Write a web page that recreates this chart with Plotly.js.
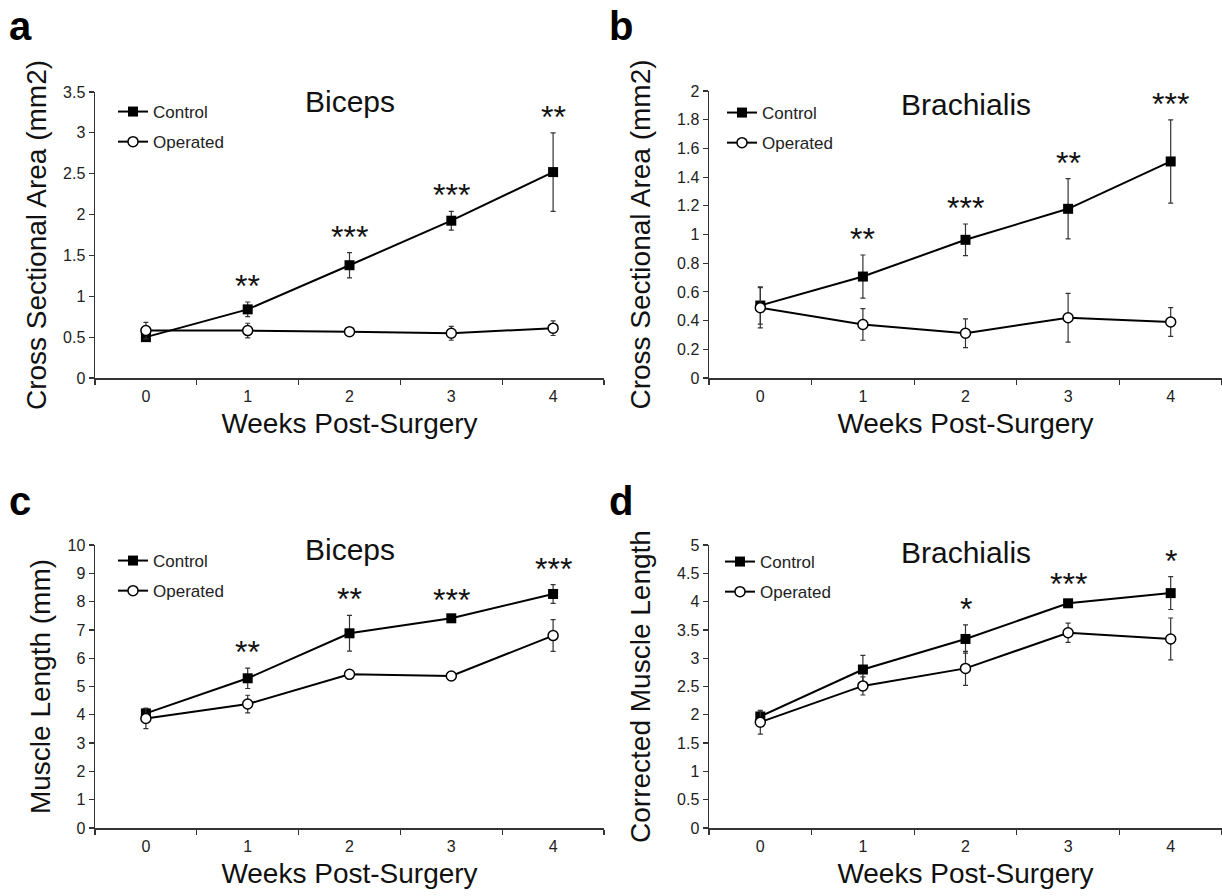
<!DOCTYPE html>
<html>
<head>
<meta charset="utf-8">
<script src="https://cdn.plot.ly/plotly-3.0.1.min.js"></script>
<style>
  html, body { margin: 0; padding: 0; background: #fff; }
  #chart { width: 1222px; height: 896px; }
</style>
</head>
<body>
<div id="chart"></div>
<script>
// ---------------- DATA ----------------
const weeks = [0, 1, 2, 3, 4];
const xTickText = ['0', '1', '2', '3', '4'];
const seriesNames = ['Control', 'Operated'];
const panelLetters = ['a', 'b', 'c', 'd'];
const panelTitles = ['Biceps', 'Brachialis', 'Biceps', 'Brachialis'];
const xAxisTitle = 'Weeks Post-Surgery';
const yAxisTitles = ['Cross Sectional Area (mm2)', 'Cross Sectional Area (mm2)', 'Muscle Length (mm)', 'Corrected Muscle Length'];

// a: Biceps cross sectional area
const csaBicepsControl = [0.50, 0.84, 1.38, 1.925, 2.52];
const csaBicepsControlErr = [0.05, 0.09, 0.155, 0.115, 0.48];
const csaBicepsOperated = [0.58, 0.58, 0.567, 0.547, 0.61];
const csaBicepsOperatedErr = [0.10, 0.09, 0.04, 0.085, 0.09];
const csaBicepsStars = ['', '**', '***', '***', '**'];
const csaBicepsTickVals = [0, 0.5, 1, 1.5, 2, 2.5, 3, 3.5];
const csaBicepsTickText = ['0', '0.5', '1', '1.5', '2', '2.5', '3', '3.5'];

// b: Brachialis cross sectional area
const csaBrachControl = [0.505, 0.707, 0.963, 1.179, 1.509];
const csaBrachControlErr = [0.13, 0.15, 0.11, 0.21, 0.29];
const csaBrachOperated = [0.49, 0.373, 0.312, 0.42, 0.39];
const csaBrachOperatedErr = [0.14, 0.11, 0.10, 0.17, 0.10];
const csaBrachStars = ['', '**', '***', '**', '***'];
const csaBrachTickVals = [0, 0.2, 0.4, 0.6, 0.8, 1, 1.2, 1.4, 1.6, 1.8, 2];
const csaBrachTickText = ['0', '0.2', '0.4', '0.6', '0.8', '1', '1.2', '1.4', '1.6', '1.8', '2'];

// c: Biceps muscle length
const lenBicepsControl = [4.05, 5.29, 6.88, 7.41, 8.27];
const lenBicepsControlErr = [0.18, 0.36, 0.63, 0.08, 0.33];
const lenBicepsOperated = [3.87, 4.38, 5.43, 5.37, 6.80];
const lenBicepsOperatedErr = [0.36, 0.31, 0.15, 0.05, 0.56];
const lenBicepsStars = ['', '**', '**', '***', '***'];
const lenBicepsTickVals = [0, 1, 2, 3, 4, 5, 6, 7, 8, 9, 10];
const lenBicepsTickText = ['0', '1', '2', '3', '4', '5', '6', '7', '8', '9', '10'];

// d: Brachialis corrected muscle length
const lenBrachControl = [1.97, 2.80, 3.34, 3.97, 4.15];
const lenBrachControlErr = [0.10, 0.25, 0.25, 0.05, 0.29];
const lenBrachOperated = [1.87, 2.51, 2.82, 3.45, 3.34];
const lenBrachOperatedErr = [0.21, 0.16, 0.30, 0.17, 0.37];
const lenBrachStars = ['', '', '*', '***', '*'];
const lenBrachTickVals = [0, 0.5, 1, 1.5, 2, 2.5, 3, 3.5, 4, 4.5, 5];
const lenBrachTickText = ['0', '0.5', '1', '1.5', '2', '2.5', '3', '3.5', '4', '4.5', '5'];

// ---------------- BUILD ----------------
const FONT = 'Liberation Sans, Arial, sans-serif';
const W = 1222, H = 896;
const px = v => v / W;
const py = v => 1 - v / H;

const panels = [
  { ctrl: csaBicepsControl, ctrlErr: csaBicepsControlErr, op: csaBicepsOperated, opErr: csaBicepsOperatedErr, stars: csaBicepsStars, tv: csaBicepsTickVals, tt: csaBicepsTickText,
    xdom: [px(95), px(604)], ydom: [py(378), py(92)], leg: [113, 94], letter: [20, 26], titleY: 101, ystand: 8 },
  { ctrl: csaBrachControl, ctrlErr: csaBrachControlErr, op: csaBrachOperated, opErr: csaBrachOperatedErr, stars: csaBrachStars, tv: csaBrachTickVals, tt: csaBrachTickText,
    xdom: [px(709), 1], ydom: [py(378), py(91)], leg: [722, 95], letter: [621, 26], titleY: 104, ystand: 18 },
  { ctrl: lenBicepsControl, ctrlErr: lenBicepsControlErr, op: lenBicepsOperated, opErr: lenBicepsOperatedErr, stars: lenBicepsStars, tv: lenBicepsTickVals, tt: lenBicepsTickText,
    xdom: [px(95), px(604)], ydom: [py(828), py(545)], leg: [113, 543], letter: [20, 501], titleY: 549, ystand: 8 },
  { ctrl: lenBrachControl, ctrlErr: lenBrachControlErr, op: lenBrachOperated, opErr: lenBrachOperatedErr, stars: lenBrachStars, tv: lenBrachTickVals, tt: lenBrachTickText,
    xdom: [px(709), 1], ydom: [py(828), py(545)], leg: [720, 544], letter: [621, 501], titleY: 552, ystand: 18 }
];

const traces = [];
const annotations = [];
const layout = {
  width: W, height: H,
  margin: { l: 0, r: 0, t: 0, b: 0 },
  paper_bgcolor: '#fff', plot_bgcolor: '#fff',
  font: { family: FONT, color: '#222' },
  showlegend: true,
  annotations: annotations
};

panels.forEach((p, i) => {
  const s = i === 0 ? '' : String(i + 1);
  const xa = 'x' + s, ya = 'y' + s;
  const legName = i === 0 ? 'legend' : 'legend' + (i + 1);

  traces.push({
    type: 'scatter', mode: 'lines+markers', name: seriesNames[0],
    x: weeks, y: p.ctrl, xaxis: xa, yaxis: ya, legend: legName, legendgroup: 'c' + i,
    line: { color: '#000', width: 2 },
    marker: { symbol: 'square', size: 10, color: '#000' },
    error_y: { type: 'data', array: p.ctrlErr, visible: true, color: '#333', thickness: 1.2, width: 2.5 }
  });
  traces.push({
    type: 'scatter', mode: 'lines+markers', name: seriesNames[1],
    x: weeks, y: p.op, xaxis: xa, yaxis: ya, legend: legName, legendgroup: 'o' + i,
    line: { color: '#000', width: 2 },
    marker: { symbol: 'circle', size: 10, color: '#fff', line: { color: '#000', width: 1.5 } },
    error_y: { type: 'data', array: p.opErr, visible: true, color: '#333', thickness: 1.2, width: 2.5 }
  });

  layout['xaxis' + s] = {
    domain: p.xdom, anchor: ya, range: [-0.5, 4.5],
    tickmode: 'array', tickvals: weeks, ticktext: xTickText, ticks: '',
    ticklabelstandoff: 3,
    minor: { tickmode: 'array', tickvals: [-0.5, 0.5, 1.5, 2.5, 3.5, 4.5], ticks: 'outside', ticklen: 5, tickwidth: 1.2, tickcolor: '#333' },
    showline: true, linecolor: '#333', linewidth: 1.5, showgrid: false, zeroline: false,
    tickfont: { size: 16, family: FONT, color: '#222' },
    title: { text: xAxisTitle, font: { size: 28, family: FONT, color: '#111' }, standoff: 9 },
    fixedrange: true
  };
  layout['yaxis' + s] = {
    domain: p.ydom, anchor: xa, range: [p.tv[0], p.tv[p.tv.length - 1]],
    tickmode: 'array', tickvals: p.tv, ticktext: p.tt,
    ticks: 'outside', ticklen: 5, tickwidth: 1.2, tickcolor: '#333',
    showline: true, linecolor: '#333', linewidth: 1.5, showgrid: false, zeroline: false,
    tickfont: { size: 16, family: FONT, color: '#222' },
    title: { text: yAxisTitles[i], font: { size: 28, family: FONT, color: '#111' }, standoff: p.ystand },
    fixedrange: true
  };
  layout[legName] = {
    x: px(p.leg[0]), y: py(p.leg[1]), xanchor: 'left', yanchor: 'top',
    xref: 'paper', yref: 'paper',
    bgcolor: 'rgba(0,0,0,0)', borderwidth: 0,
    font: { size: 17, family: FONT, color: '#222' },
    traceorder: 'grouped', tracegroupgap: 5, itemwidth: 30
  };

  // panel title
  annotations.push({
    xref: xa, yref: 'paper', x: 2, y: py(p.titleY), text: panelTitles[i],
    showarrow: false, xanchor: 'center', yanchor: 'middle',
    font: { size: 30, family: FONT, color: '#111' }
  });
  // panel letter
  annotations.push({
    xref: 'paper', yref: 'paper', x: px(p.letter[0]), y: py(p.letter[1]), text: '<b>' + panelLetters[i] + '</b>',
    showarrow: false, xanchor: 'center', yanchor: 'middle',
    font: { size: 40, family: FONT, color: '#000' }
  });
  // significance stars above control error bars
  p.stars.forEach((st, k) => {
    if (!st) return;
    annotations.push({
      xref: xa, yref: ya, x: weeks[k], y: p.ctrl[k] + p.ctrlErr[k], text: st,
      showarrow: false, xanchor: 'center', yanchor: 'middle', yshift: 16,
      font: { size: 32, family: FONT, color: '#111' }
    });
  });
});

Plotly.newPlot('chart', traces, layout, { displayModeBar: false, staticPlot: true });
</script>
</body>
</html>
